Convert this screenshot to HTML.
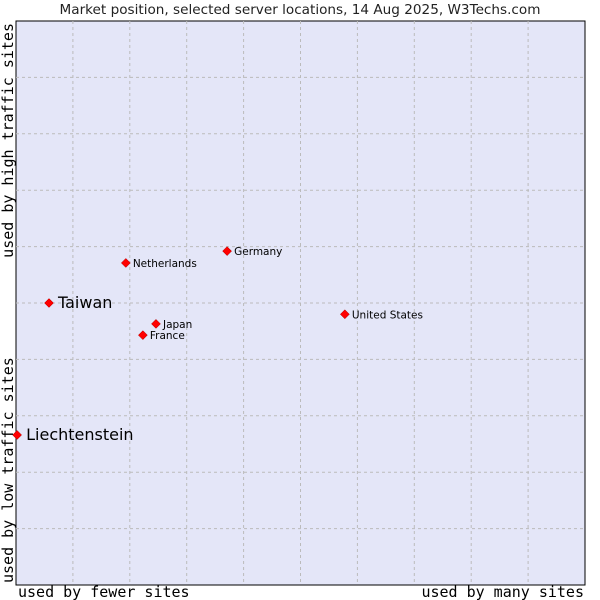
<!DOCTYPE html>
<html><head><meta charset="utf-8"><style>
html,body{margin:0;padding:0;background:#fff;width:600px;height:600px;overflow:hidden}
svg{display:block}
</style></head><body>
<svg id="chart" width="600" height="600" xmlns="http://www.w3.org/2000/svg">
<text x="300" y="14" text-anchor="middle" font-family="DejaVu Sans, sans-serif" font-size="13.6" fill="#222">Market position, selected server locations, 14 Aug 2025, W3Techs.com</text>
<rect x="16" y="21" width="569" height="564" fill="#e4e6f8" stroke="#000" stroke-width="1"/>
<g id="grid"></g>
<g id="points"></g>
<text x="18" y="597" font-family="DejaVu Sans Mono, monospace" font-size="15" fill="#000">used by fewer sites</text>
<text x="584" y="597" text-anchor="end" font-family="DejaVu Sans Mono, monospace" font-size="15" fill="#000">used by many sites</text>
<text transform="translate(13,583) rotate(-90)" font-family="DejaVu Sans Mono, monospace" font-size="15" fill="#000">used by low traffic sites</text>
<text transform="translate(13,23) rotate(-90)" text-anchor="end" font-family="DejaVu Sans Mono, monospace" font-size="15" fill="#000">used by high traffic sites</text>
</svg>
<script>
const countries=["Liechtenstein","Taiwan","Netherlands","Germany","Japan","France","United States"];
const usage=[0.2,5.8,19.3,37.1,24.6,22.3,57.8];
const traffic=[26.6,50.0,57.1,59.2,46.3,44.3,48.0];
const highlighted=[true,true,false,false,false,false,false];
const NS="http://www.w3.org/2000/svg";
const X0=16,X1=585,Y0=585,Y1=21;
const xs=v=>X0+(X1-X0)*v/100, ys=v=>Y0-(Y0-Y1)*v/100;
const grid=document.getElementById('grid');
for(let i=1;i<10;i++){
 let l=document.createElementNS(NS,'line');
 
 
 l.setAttribute('x1',xs(i*10));l.setAttribute('x2',xs(i*10));l.setAttribute('y1',Y1);l.setAttribute('y2',Y0);
 l.setAttribute('stroke','#bbb');l.setAttribute('stroke-dasharray','3,3');grid.appendChild(l);
 let h=document.createElementNS(NS,'line');
 
 
 h.setAttribute('x1',X0);h.setAttribute('x2',X1);h.setAttribute('y1',ys(i*10));h.setAttribute('y2',ys(i*10));
 h.setAttribute('stroke','#bbb');h.setAttribute('stroke-dasharray','3,3');grid.appendChild(h);
}
const pts=document.getElementById('points');
countries.forEach((c,i)=>{
 const x=xs(usage[i]),y=ys(traffic[i]);
 const d=document.createElementNS(NS,'path');
 
 
 d.setAttribute('d',`M${x} ${y-4.5}L${x+4.5} ${y}L${x} ${y+4.5}L${x-4.5} ${y}Z`);
 d.setAttribute('fill','#f00');d.setAttribute('stroke','#a00');d.setAttribute('stroke-width','0.5');
 pts.appendChild(d);
 const t=document.createElementNS(NS,'text');
 
 
 const big=highlighted[i];
 t.setAttribute('x',x+(big?9:7));t.setAttribute('y',y+(big?5:4));
 t.setAttribute('font-family','DejaVu Sans, sans-serif');
 t.setAttribute('font-size',big?16:10.5);
 t.setAttribute('fill','#000');
 t.textContent=c;pts.appendChild(t);
});
</script>
</body></html>
